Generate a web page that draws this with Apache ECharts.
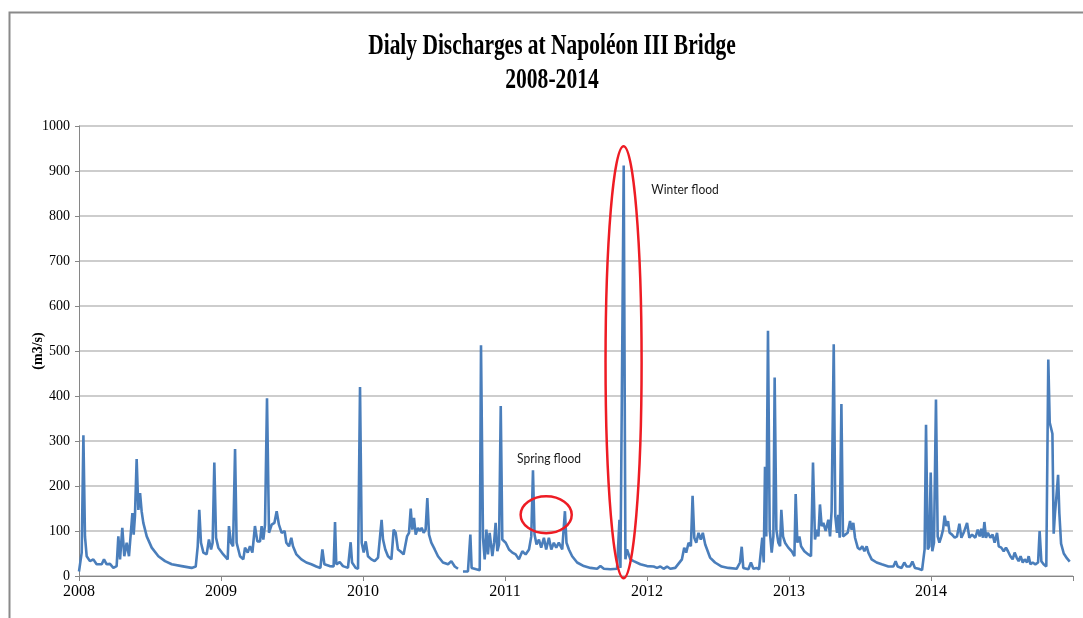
<!DOCTYPE html>
<html>
<head>
<meta charset="utf-8">
<script src="https://cdn.jsdelivr.net/npm/echarts@6/dist/echarts.min.js"></script>
<style>
  html, body { margin: 0; padding: 0; background: #ffffff; }
  #chart { width: 1083px; height: 618px; }
</style>
</head>
<body>
<div id="chart"></div>
<script>
// ---- Data ----
const titleLines = ['Dialy Discharges at Napoléon III Bridge', '2008-2014'];
const yAxisName = '(m3/s)';
const yearTicks = [2008, 2009, 2010, 2011, 2012, 2013, 2014];

// time as decimal year
const years = [
  2008.000, 2008.019, 2008.031, 2008.042, 2008.054, 2008.077, 2008.101, 2008.124, 2008.160, 2008.176,
  2008.195, 2008.218, 2008.242, 2008.265, 2008.277, 2008.289, 2008.305, 2008.319, 2008.336, 2008.352,
  2008.376, 2008.385, 2008.394, 2008.406, 2008.418, 2008.430, 2008.441, 2008.453, 2008.477, 2008.512,
  2008.559, 2008.606, 2008.653, 2008.723, 2008.793, 2008.822, 2008.836, 2008.847, 2008.859, 2008.876,
  2008.899, 2008.915, 2008.930, 2008.941, 2008.953, 2008.965, 2008.981, 2009.016, 2009.047, 2009.056,
  2009.070, 2009.085, 2009.099, 2009.110, 2009.134, 2009.157, 2009.169, 2009.188, 2009.204, 2009.221,
  2009.239, 2009.256, 2009.275, 2009.286, 2009.298, 2009.310, 2009.324, 2009.338, 2009.357, 2009.376,
  2009.392, 2009.408, 2009.427, 2009.448, 2009.460, 2009.479, 2009.495, 2009.507, 2009.531, 2009.566,
  2009.601, 2009.636, 2009.671, 2009.700, 2009.714, 2009.728, 2009.765, 2009.793, 2009.803, 2009.812,
  2009.836, 2009.859, 2009.894, 2009.913, 2009.923, 2009.948, 2009.965, 2009.979, 2009.991, 2010.005,
  2010.019, 2010.035, 2010.059, 2010.082, 2010.106, 2010.117, 2010.131, 2010.141, 2010.157, 2010.176,
  2010.200, 2010.216, 2010.230, 2010.246, 2010.263, 2010.286, 2010.310, 2010.324, 2010.336, 2010.347,
  2010.359, 2010.371, 2010.387, 2010.399, 2010.413, 2010.427, 2010.441, 2010.453, 2010.465, 2010.481,
  2010.505, 2010.528, 2010.563, 2010.599, 2010.622, 2010.646, 2010.669, 2010.685, 2010.704, 2010.739,
  2010.756, 2010.765, 2010.798, 2010.822, 2010.831, 2010.845, 2010.857, 2010.869, 2010.880, 2010.892,
  2010.911, 2010.923, 2010.934, 2010.946, 2010.958, 2010.970, 2010.981, 2011.005, 2011.028, 2011.052,
  2011.075, 2011.098, 2011.122, 2011.145, 2011.169, 2011.185, 2011.197, 2011.208, 2011.222, 2011.239,
  2011.255, 2011.274, 2011.290, 2011.309, 2011.326, 2011.344, 2011.361, 2011.379, 2011.403, 2011.422,
  2011.433, 2011.450, 2011.473, 2011.508, 2011.555, 2011.602, 2011.649, 2011.672, 2011.696, 2011.742,
  2011.789, 2011.806, 2011.813, 2011.824, 2011.836, 2011.848, 2011.859, 2011.883, 2011.906, 2011.953,
  2012.000, 2012.047, 2012.070, 2012.094, 2012.117, 2012.141, 2012.164, 2012.199, 2012.246, 2012.262,
  2012.276, 2012.293, 2012.309, 2012.321, 2012.333, 2012.347, 2012.363, 2012.379, 2012.393, 2012.410,
  2012.444, 2012.479, 2012.526, 2012.573, 2012.631, 2012.655, 2012.667, 2012.678, 2012.714, 2012.732,
  2012.749, 2012.772, 2012.789, 2012.803, 2012.812, 2012.822, 2012.831, 2012.840, 2012.852, 2012.864,
  2012.878, 2012.890, 2012.899, 2012.911, 2012.925, 2012.937, 2012.946, 2012.958, 2012.972, 2012.995,
  2013.019, 2013.038, 2013.047, 2013.059, 2013.073, 2013.085, 2013.108, 2013.136, 2013.155, 2013.169,
  2013.183, 2013.197, 2013.207, 2013.218, 2013.230, 2013.242, 2013.258, 2013.277, 2013.289, 2013.300,
  2013.315, 2013.326, 2013.338, 2013.347, 2013.357, 2013.369, 2013.380, 2013.394, 2013.413, 2013.430,
  2013.441, 2013.453, 2013.465, 2013.484, 2013.500, 2013.516, 2013.531, 2013.547, 2013.559, 2013.582,
  2013.617, 2013.653, 2013.700, 2013.735, 2013.751, 2013.765, 2013.793, 2013.812, 2013.829, 2013.852,
  2013.869, 2013.887, 2013.913, 2013.937, 2013.951, 2013.955, 2013.965, 2013.977, 2013.988, 2013.998,
  2014.009, 2014.021, 2014.035, 2014.047, 2014.059, 2014.073, 2014.085, 2014.096, 2014.108, 2014.120,
  2014.131, 2014.148, 2014.167, 2014.183, 2014.200, 2014.214, 2014.230, 2014.254, 2014.270, 2014.289,
  2014.312, 2014.329, 2014.343, 2014.354, 2014.366, 2014.376, 2014.387, 2014.401, 2014.418, 2014.434,
  2014.448, 2014.465, 2014.477, 2014.495, 2014.512, 2014.528, 2014.542, 2014.559, 2014.575, 2014.589,
  2014.603, 2014.617, 2014.631, 2014.646, 2014.660, 2014.676, 2014.688, 2014.700, 2014.716, 2014.735,
  2014.754, 2014.765, 2014.777, 2014.793, 2014.812, 2014.826, 2014.836, 2014.845, 2014.855, 2014.864,
  2014.873, 2014.883, 2014.895, 2014.904, 2014.916, 2014.935, 2014.958, 2014.977
];

// daily discharge (m3/s); null = missing record
const flows = [
  10, 52, 313, 88, 44, 33, 37, 26, 26, 37,
  26, 27, 18, 22, 88, 37, 107, 44, 74, 44,
  140, 92, 133, 260, 147, 184, 144, 118, 88, 63,
  44, 33, 26, 22, 18, 21, 66, 147, 74, 52,
  48, 81, 59, 74, 252, 85, 63, 48, 37, 111,
  74, 66, 282, 74, 44, 37, 63, 52, 66, 52,
  111, 77, 77, 111, 81, 114, 395, 96, 114, 118,
  144, 114, 96, 100, 74, 66, 85, 66, 48, 37,
  30, 26, 21, 18, 59, 26, 22, 21, 120, 26,
  31, 22, 18, 75, 30, 18, 16, 420, 74, 52,
  77, 44, 37, 33, 41, 37, 125, 81, 59, 44,
  37, 103, 96, 59, 55, 48, 88, 96, 150, 103,
  129, 92, 107, 100, 107, 96, 103, 173, 92, 74,
  59, 44, 30, 26, 33, 21, 16, null, 10, 10,
  92, 18, 15, 13, 513, 85, 37, 103, 48, 96,
  44, 74, 118, 55, 70, 378, 81, 74, 59, 52,
  48, 37, 55, 48, 59, 88, 235, 92, 70, 81,
  63, 85, 59, 85, 59, 74, 63, 74, 59, 144,
  74, 59, 44, 30, 22, 18, 16, 22, 16, 15,
  16, 125, 18, 21, 912, 37, 59, 37, 33, 26,
  22, 21, 18, 21, 16, 21, 16, 18, 37, 63,
  52, 74, 66, 178, 85, 74, 96, 81, 96, 70,
  41, 30, 21, 18, 16, 30, 65, 18, 15, 30,
  16, 18, 15, 18, 85, 30, 243, 88, 545, 103,
  52, 88, 441, 103, 74, 66, 147, 88, 74, 63,
  55, 44, 182, 74, 88, 66, 55, 48, 44, 252,
  81, 103, 88, 159, 111, 118, 100, 125, 88, 144,
  515, 133, 96, 136, 85, 382, 88, 85, 96, 122,
  103, 118, 85, 63, 59, 66, 55, 66, 52, 37,
  30, 26, 21, 21, 33, 21, 18, 30, 21, 21,
  32, 18, 16, 13, 15, 59, 336, 59, 66, 230,
  55, 74, 392, 88, 74, 88, 103, 134, 111, 122,
  96, 92, 85, 88, 116, 85, 96, 118, 85, 92,
  85, 103, 88, 105, 85, 120, 85, 96, 85, 92,
  74, 96, 66, 63, 55, 63, 55, 44, 37, 52,
  41, 33, 44, 30, 37, 30, 44, 26, 30, 26,
  30, 100, 33, 26, 21, 481, 341, 338, 316, 94,
  139, 176, 225, 139, 72, 50, 39, 32
];

// annotations (data coordinates)
const annotations = [
  { text: 'Winter flood', at: [2012.03, 858], ellipse: { center: [2011.835, 475], rx: 0.127, ry: 480 } },
  { text: 'Spring flood', at: [2011.085, 262], ellipse: { center: [2011.29, 136], rx: 0.18, ry: 41 } }
];

// ---- Chart ----
const chart = echarts.init(document.getElementById('chart'), null, { renderer: 'canvas' });
const seriesData = years.map((y, i) => [y, flows[i] === null ? '-' : flows[i]]);

const option = {
  backgroundColor: '#ffffff',
  animation: false,
  grid: { left: 79, right: 10, top: 126, bottom: 42, containLabel: false },
  xAxis: {
    type: 'value',
    min: yearTicks[0],
    max: yearTicks[yearTicks.length - 1] + 1,
    interval: 1,
    axisLine: { show: true, lineStyle: { color: '#868686', width: 1 } },
    axisTick: { show: true, length: 5, lineStyle: { color: '#868686' } },
    splitLine: { show: false },
    axisLabel: {
      margin: 8,
      fontFamily: 'Liberation Serif',
      fontSize: 16,
      color: '#000000',
      formatter: v => (yearTicks.indexOf(v) >= 0 ? String(v) : '')
    }
  },
  yAxis: {
    type: 'value',
    min: 0,
    max: 1000,
    interval: 100,
    name: yAxisName,
    nameLocation: 'middle',
    nameGap: 34,
    nameMoveOverlap: false,
    nameTextStyle: { fontFamily: 'Liberation Serif', fontWeight: 'bold', fontSize: 14, color: '#000000' },
    axisLine: { show: true, lineStyle: { color: '#868686', width: 1 } },
    axisTick: { show: true, length: 4, lineStyle: { color: '#868686' } },
    splitLine: { show: true, lineStyle: { color: '#bdbdbd', width: 1.5 } },
    axisLabel: { margin: 9, fontFamily: 'Liberation Serif', fontSize: 14, color: '#000000',
      formatter: v => String(v) }
  },
  series: [{
    type: 'line',
    data: seriesData,
    showSymbol: false,
    connectNulls: false,
    lineStyle: { color: '#4a7ebb', width: 2.6 },
    itemStyle: { color: '#4a7ebb' },
    z: 3
  }]
};
chart.setOption(option);

// graphic overlays: frame, title, annotations (positioned through the chart scales)
const graphics = [
  { type: 'rect', left: 7, top: 10, shape: { x: 0, y: 0, width: 1200, height: 800 },
    style: { fill: 'none', stroke: '#8a8a8a', lineWidth: 2 }, silent: true, z: 0 },
  { type: 'text', x: 552, y: 46, scaleX: 0.715, z: 10,
    style: { text: titleLines[0], font: 'bold 30px "Liberation Serif"', fill: '#000', textAlign: 'center', textVerticalAlign: 'middle' } },
  { type: 'text', x: 552, y: 80, scaleX: 0.72, z: 10,
    style: { text: titleLines[1], font: 'bold 30px "Liberation Serif"', fill: '#000', textAlign: 'center', textVerticalAlign: 'middle' } }
];
annotations.forEach(a => {
  const c = chart.convertToPixel({ gridIndex: 0 }, a.ellipse.center);
  const e1 = chart.convertToPixel({ gridIndex: 0 }, [a.ellipse.center[0] + a.ellipse.rx, a.ellipse.center[1] + a.ellipse.ry]);
  graphics.push({ type: 'ellipse', z: 20, silent: true,
    shape: { cx: c[0], cy: c[1], rx: Math.abs(e1[0] - c[0]), ry: Math.abs(c[1] - e1[1]) },
    style: { fill: 'none', stroke: '#ee1c24', lineWidth: 2.5 } });
  const t = chart.convertToPixel({ gridIndex: 0 }, a.at);
  graphics.push({ type: 'text', x: t[0], y: t[1], z: 20, scaleX: 0.86,
    style: { text: a.text, font: '14px Lato', fill: '#1a1a1a', textAlign: 'left', textVerticalAlign: 'middle' } });
});
chart.setOption({ graphic: graphics });
</script>
</body>
</html>
